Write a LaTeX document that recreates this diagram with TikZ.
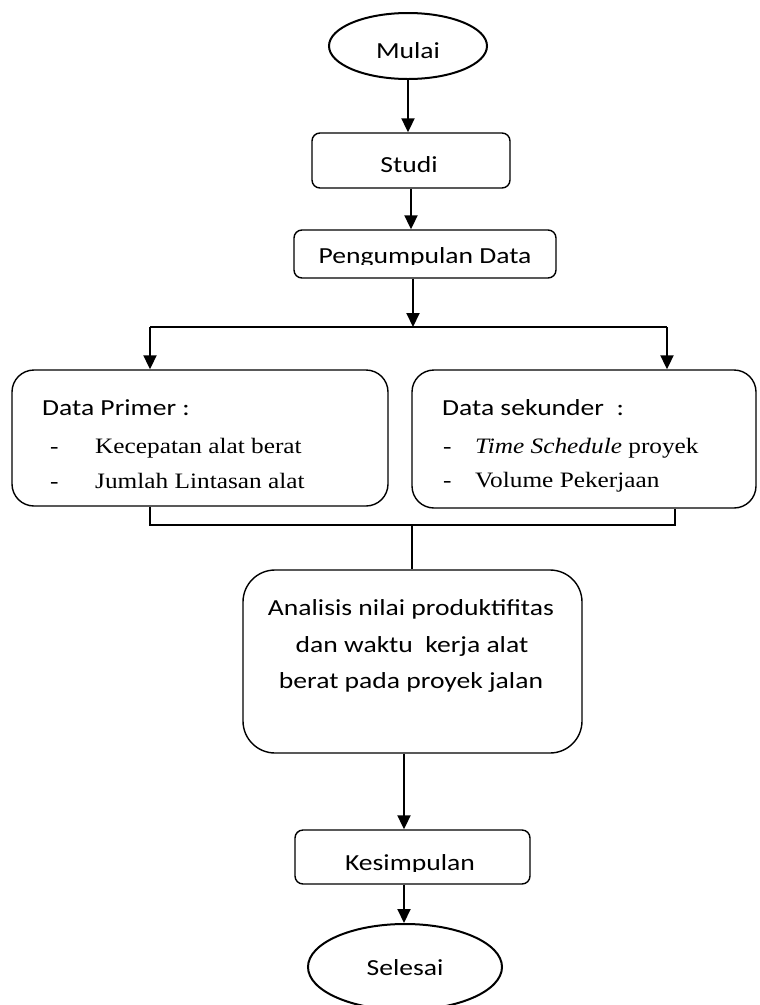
\documentclass[tikz,border=0pt]{standalone}
\usepackage{fontspec}
\newfontfamily\calib[FakeStretch=1.2]{Carlito}
\newfontfamily\tnr[FakeStretch=1.15]{Liberation Serif}
\usetikzlibrary{arrows.meta,shapes.geometric}
\begin{document}
\begin{tikzpicture}[x=1pt,y=-1pt,
 box/.style={draw,line width=1.4pt,rounded corners=8pt,inner sep=0pt},
 oval/.style={draw,ellipse,line width=2pt,inner sep=0pt},
 conn/.style={line width=2pt},
 arr/.style={line width=2pt,-{Triangle[length=14pt,width=13pt]}},
 sans/.style={font=\calib\fontsize{23}{28}\selectfont,inner sep=0pt,anchor=base},
 serif/.style={font=\tnr\fontsize{22}{27}\selectfont,inner sep=0pt,anchor=base west}]
\useasboundingbox (0,0) rectangle (760,1005);

% shapes
\node[oval,minimum width=158pt,minimum height=66pt] (mulai) at (408,46) {};
\node[box,minimum width=198pt,minimum height=55pt] (studi) at (411,160.5) {};
\node[box,minimum width=262pt,minimum height=48pt] (peng) at (425,254) {};
\node[box,rounded corners=22pt,minimum width=376pt,minimum height=136pt] (primer) at (200,438) {};
\node[box,rounded corners=22pt,minimum width=344pt,minimum height=138pt] (sekunder) at (584,439) {};
\node[box,rounded corners=32pt,minimum width=339pt,minimum height=183pt] (analisis) at (412.5,661.5) {};
\node[box,minimum width=235pt,minimum height=54pt] (kesim) at (412.5,857) {};
\node[oval,minimum width=194pt,minimum height=86pt] (selesai) at (405,967) {};

% texts
\node[sans] (tmulai) at (408,58) {Mulai};
\node[sans] (tstudi) at (409,172) {Studi};
\begin{scope}
\clip (294,230) rectangle (556,264);
\node[sans] (tpeng) at (425,263) {Pengumpulan Data};
\end{scope}
\node[sans,anchor=base west] (tprim) at (42,415) {Data Primer :};
\node[serif] (d1) at (50,453) {-};
\node[serif] (p1) at (95,453) {Kecepatan alat berat};
\node[serif] (d2) at (50,488) {-};
\node[serif] (p2) at (95,488) {Jumlah Lintasan alat};
\node[sans,anchor=base west] (tsek) at (442,415) {Data sekunder\ \ :};
\node[serif] (d3) at (443,453) {-};
\node[serif] (s1) at (475,453) {\itshape Time Schedule\upshape{} proyek};
\node[serif] (d4) at (443,487) {-};
\node[serif] (s2) at (475,487) {Volume Pekerjaan};
\node[sans] (ta1) at (411,615) {Analisis nilai produktifitas};
\node[sans] (ta2) at (412,652) {dan waktu\ \ kerja alat};
\node[sans] (ta3) at (411,688) {berat pada proyek jalan};
\begin{scope}
\clip (295,830) rectangle (530,871);
\node[sans] (tkes) at (410,870) {Kesimpulan};
\end{scope}
\node[sans] (tsel) at (405,975) {Selesai};

% connectors
\coordinate (j1) at (413,327);
\coordinate (jl) at (150,327);
\coordinate (jr) at (667,327);
\coordinate (ml) at (150,525);
\coordinate (mr) at (675,525);
\coordinate (mc) at (412,525);
\coordinate (k1) at (404,0);

\draw[arr] (mulai.south) -- (mulai.south |- studi.north);
\draw[arr] (studi.south) -- (studi.south |- peng.north);
\draw[arr] (j1 |- peng.south) -- (j1);
\draw[conn] (jl) -- (jr);
\draw[arr] (jl) -- (jl |- primer.north);
\draw[arr] (jr) -- (jr |- sekunder.north);
\draw[conn] (ml |- primer.south) -- (ml) -- (mr) -- (mr |- sekunder.south);
\draw[conn] (mc) -- (mc |- analisis.north);
\draw[arr] (k1 |- analisis.south) -- (k1 |- kesim.north);
\draw[arr] (k1 |- kesim.south) -- (k1 |- selesai.north);
\end{tikzpicture}
\end{document}
